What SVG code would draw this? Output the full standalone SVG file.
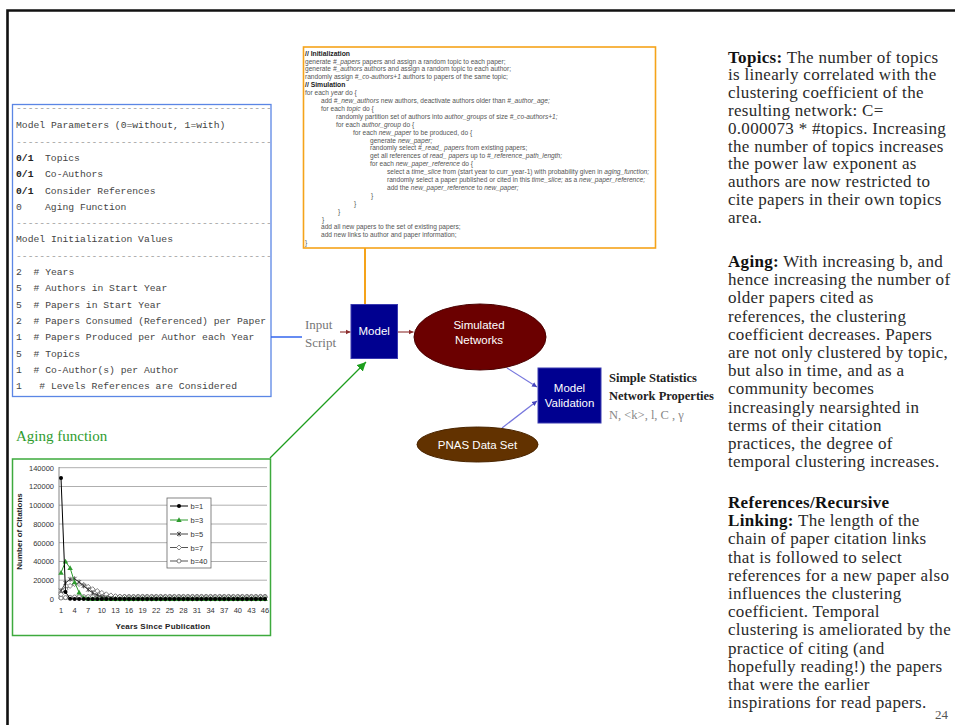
<svg xmlns="http://www.w3.org/2000/svg" width="955" height="725" viewBox="0 0 955 725">
<style>
.code{font-family:"Liberation Sans",Arial,sans-serif;font-size:6.6px;fill:#555}
.cb{font-weight:bold;fill:#222;font-size:6.8px}
.i{font-style:italic}
.mono{font-family:"Liberation Mono","Courier New",monospace;font-size:9.7px;fill:#444}
.dash{fill:#999}
.bold{font-weight:bold;fill:#222}
.ax{font-family:"Liberation Sans",Arial,sans-serif;font-size:7.5px;fill:#333}
.axb{font-family:"Liberation Sans",Arial,sans-serif;font-size:8px;font-weight:bold;fill:#222}
.grid{stroke:#9a9a9a;stroke-width:0.8}
.body{font-family:"Liberation Serif","Times New Roman",serif;font-size:17px;letter-spacing:0.3px;fill:#2a2a2a}
.hb{font-weight:bold;fill:#111}
.wt{font-family:"Liberation Sans",Arial,sans-serif;font-size:11.5px;fill:#fff;text-anchor:middle}
.serif{font-family:"Liberation Serif","Times New Roman",serif}
.navy{fill:#000090;stroke:#3a3ab0;stroke-width:1}
.ser{fill:none;stroke-width:1}
</style>
<defs>
<marker id="ahR" markerWidth="6" markerHeight="6" refX="5" refY="3" orient="auto" markerUnits="userSpaceOnUse"><path d="M0,0.5 L5,3 L0,5.5z" fill="#8B2E2E"/></marker>
<marker id="ahB" markerWidth="6" markerHeight="6" refX="5" refY="3" orient="auto" markerUnits="userSpaceOnUse"><path d="M0,0.5 L5,3 L0,5.5z" fill="#4444BB"/></marker>
<marker id="ahG" markerWidth="10" markerHeight="9" refX="9" refY="4.5" orient="auto" markerUnits="userSpaceOnUse"><path d="M0,0 L9,4.5 L0,9z" fill="#1E9E1E"/></marker>
<marker id="m1" markerWidth="6" markerHeight="6" refX="3" refY="3" markerUnits="userSpaceOnUse"><circle cx="3" cy="3" r="2" fill="#000"/></marker>
<marker id="m3" markerWidth="7" markerHeight="7" refX="3.5" refY="3.5" markerUnits="userSpaceOnUse"><path d="M3.5,0.8 L6.2,5.6 L0.8,5.6z" fill="#2E9B2E"/></marker>
<marker id="m5" markerWidth="7" markerHeight="7" refX="3.5" refY="3.5" markerUnits="userSpaceOnUse"><path d="M1.5,1.5 L5.5,5.5 M5.5,1.5 L1.5,5.5 M3.5,1 L3.5,6" stroke="#333" stroke-width="0.8"/></marker>
<marker id="m7" markerWidth="7" markerHeight="7" refX="3.5" refY="3.5" markerUnits="userSpaceOnUse"><path d="M3.5,1 L6,3.5 L3.5,6 L1,3.5z" fill="#fff" stroke="#555" stroke-width="0.7"/></marker>
<marker id="m40" markerWidth="7" markerHeight="7" refX="3.5" refY="3.5" markerUnits="userSpaceOnUse"><circle cx="3.5" cy="3.5" r="2" fill="#fff" stroke="#555" stroke-width="0.7"/></marker>
</defs>
<rect width="955" height="725" fill="#fff"/>
<!-- frame -->
<path d="M7.5,725 V10.5 H955" fill="none" stroke="#111" stroke-width="2.6"/>

<!-- pseudo-code box -->
<g id="code">
<rect x="303.5" y="47" width="352" height="201" fill="#fff" stroke="#F5A31A" stroke-width="1.6"/>
<text class="code">
<tspan x="305" y="55.6" class="cb">// Initialization</tspan>
<tspan x="305" y="63.5">generate <tspan class="i">#_papers</tspan> papers and assign a random topic to each paper;</tspan>
<tspan x="305" y="71.4">generate <tspan class="i">#_authors</tspan> authors and assign a random topic to each author;</tspan>
<tspan x="305" y="79.3">randomly assign <tspan class="i">#_co-authors+1</tspan> authors to papers of the same topic;</tspan>
<tspan x="305" y="87.2" class="cb">// Simulation</tspan>
<tspan x="305" y="95.1">for each <tspan class="i">year</tspan> do {</tspan>
<tspan x="321" y="103">add <tspan class="i">#_new_authors</tspan> new authors, deactivate authors older than <tspan class="i">#_author_age;</tspan></tspan>
<tspan x="321" y="110.9">for each <tspan class="i">topic</tspan> do {</tspan>
<tspan x="336" y="118.8">randomly partition set of authors into <tspan class="i">author_groups</tspan> of size <tspan class="i">#_co-authors+1;</tspan></tspan>
<tspan x="336" y="126.7">for each <tspan class="i">author_group</tspan> do {</tspan>
<tspan x="353" y="134.6">for each <tspan class="i">new_paper</tspan> to be produced, do {</tspan>
<tspan x="370" y="142.5">generate <tspan class="i">new_paper;</tspan></tspan>
<tspan x="370" y="150.4">randomly select <tspan class="i">#_read_ papers</tspan> from existing papers;</tspan>
<tspan x="370" y="158.3">get all references of <tspan class="i">read_ papers</tspan> up to <tspan class="i">#_reference_path_length;</tspan></tspan>
<tspan x="370" y="166.2">for each <tspan class="i">new_paper_reference</tspan> do {</tspan>
<tspan x="387" y="174.1">select a <tspan class="i">time_slice</tspan> from (start year to curr_year-1) with probability given in <tspan class="i">aging_function;</tspan></tspan>
<tspan x="387" y="182">randomly select a paper published or cited in this <tspan class="i">time_slice;</tspan> as a <tspan class="i">new_paper_reference;</tspan></tspan>
<tspan x="387" y="189.9">add the <tspan class="i">new_paper_reference</tspan> to <tspan class="i">new_paper;</tspan></tspan>
<tspan x="371" y="197.8">}</tspan>
<tspan x="354" y="205.7">}</tspan>
<tspan x="338" y="213.6">}</tspan>
<tspan x="322" y="221.5">}</tspan>
<tspan x="321" y="229.4">add all new papers to the set of existing papers;</tspan>
<tspan x="321" y="237.3">add new links to author and paper information;</tspan>
<tspan x="305" y="245.2">}</tspan>
</text>
</g>

<!-- parameters box -->
<g id="params">
<rect x="12.5" y="104.5" width="258.5" height="292" fill="#fff" stroke="#5B86E5" stroke-width="1.3"/>
<text class="mono">
<tspan x="16" y="111" class="dash">--------------------------------------------</tspan>
<tspan x="16" y="128.3">Model Parameters (0=without, 1=with)</tspan>
<tspan x="16" y="144.6" class="dash">--------------------------------------------</tspan>
<tspan x="16" y="160.9" class="bold">0/1</tspan><tspan x="45" y="160.9">Topics</tspan>
<tspan x="16" y="177.2" class="bold">0/1</tspan><tspan x="45" y="177.2">Co-Authors</tspan>
<tspan x="16" y="193.5" class="bold">0/1</tspan><tspan x="45" y="193.5">Consider References</tspan>
<tspan x="16" y="209.8">0</tspan><tspan x="45" y="209.8">Aging Function</tspan>
<tspan x="16" y="226.1" class="dash">--------------------------------------------</tspan>
<tspan x="16" y="242.4">Model Initialization Values</tspan>
<tspan x="16" y="258.7" class="dash">--------------------------------------------</tspan>
<tspan x="16" y="275">2</tspan><tspan x="33.5" y="275"># Years</tspan>
<tspan x="16" y="291.3">5</tspan><tspan x="33.5" y="291.3"># Authors in Start Year</tspan>
<tspan x="16" y="307.6">5</tspan><tspan x="33.5" y="307.6"># Papers in Start Year</tspan>
<tspan x="16" y="323.9">2</tspan><tspan x="33.5" y="323.9"># Papers Consumed (Referenced) per Paper</tspan>
<tspan x="16" y="340.2">1</tspan><tspan x="33.5" y="340.2"># Papers Produced per Author each Year</tspan>
<tspan x="16" y="356.5">5</tspan><tspan x="33.5" y="356.5"># Topics</tspan>
<tspan x="16" y="372.8">1</tspan><tspan x="33.5" y="372.8"># Co-Author(s) per Author</tspan>
<tspan x="16" y="389.1">1</tspan><tspan x="39.3" y="389.1"># Levels References are Considered</tspan>
</text>
</g>

<!-- aging function chart -->
<g id="aging">
<text x="16" y="441" class="serif" font-size="15" fill="#2E9B2E">Aging function</text>
<rect x="12.5" y="459" width="258" height="176.5" fill="#fff" stroke="#3DAA3D" stroke-width="1.5"/>
<g class="grid">
<line x1="59" y1="467.7" x2="267" y2="467.7"/>
<line x1="59" y1="486.5" x2="267" y2="486.5"/>
<line x1="59" y1="505.2" x2="267" y2="505.2"/>
<line x1="59" y1="524" x2="267" y2="524"/>
<line x1="59" y1="542.7" x2="267" y2="542.7"/>
<line x1="59" y1="561.5" x2="267" y2="561.5"/>
<line x1="59" y1="580.2" x2="267" y2="580.2"/>
</g>
<line x1="59" y1="599" x2="267" y2="599" stroke="#777" stroke-width="0.9"/>
<line x1="59" y1="467" x2="59" y2="599" stroke="#777" stroke-width="0.9"/>
<g class="ax" text-anchor="end">
<text x="54" y="470.5">140000</text>
<text x="54" y="489.3">120000</text>
<text x="54" y="508">100000</text>
<text x="54" y="526.8">80000</text>
<text x="54" y="545.5">60000</text>
<text x="54" y="564.3">40000</text>
<text x="54" y="583">20000</text>
<text x="54" y="601.8">0</text>
</g>
<g class="ax" text-anchor="middle">
<text x="61" y="613">1</text><text x="74.6" y="613">4</text><text x="88.2" y="613">7</text><text x="101.8" y="613">10</text>
<text x="115.4" y="613">13</text><text x="129" y="613">16</text><text x="142.6" y="613">19</text><text x="156.2" y="613">22</text>
<text x="169.8" y="613">25</text><text x="183.4" y="613">28</text><text x="197" y="613">31</text><text x="210.6" y="613">34</text>
<text x="224.2" y="613">37</text><text x="237.8" y="613">40</text><text x="251.4" y="613">43</text><text x="265" y="613">46</text>
</g>
<text x="163" y="629" class="axb" text-anchor="middle" letter-spacing="0.2">Years Since Publication</text>
<text transform="translate(22,531.5) rotate(-90)" class="axb" text-anchor="middle">Number of Citations</text>
<polyline class="ser" stroke="#555" marker-start="url(#m40)" marker-mid="url(#m40)" marker-end="url(#m40)" points="61,598 65.5,597.6 70.1,597.3 74.6,597 79.1,596.8 83.7,596.6 88.2,596.6 92.7,596.6 97.3,596.5 101.8,596.5 106.3,596.5 110.9,596.5 115.4,596.5 119.9,596.5 124.5,596.5 129,596.5 133.5,596.5 138.1,596.4 142.6,596.4 147.1,596.4 151.7,596.4 156.2,596.4 160.7,596.4 165.3,596.4 169.8,596.4 174.3,596.4 178.9,596.4 183.4,596.4 187.9,596.4 192.5,596.4 197,596.4 201.5,596.4 206.1,596.4 210.6,596.4 215.1,596.4 219.7,596.4 224.2,596.4 228.7,596.4 233.3,596.4 237.8,596.4 242.3,596.4 246.9,596.4 251.4,596.4 255.9,596.4 260.5,596.4 265,596.4"/>
<polyline class="ser" stroke="#555" marker-start="url(#m7)" marker-mid="url(#m7)" marker-end="url(#m7)" points="61,594.3 65.5,589.2 70.1,585.9 74.6,584 79.1,584 83.7,584.9 88.2,586.8 92.7,589.2 97.3,591 101.8,592.9 106.3,594.3 110.9,595.4 115.4,596.2 119.9,596.7 124.5,597 129,597.2 133.5,597.2 138.1,597.2 142.6,597.2 147.1,597.2 151.7,597.2 156.2,597.2 160.7,597.2 165.3,597.2 169.8,597.2 174.3,597.2 178.9,597.2 183.4,597.2 187.9,597.2 192.5,597.2 197,597.2 201.5,597.2 206.1,597.2 210.6,597.2 215.1,597.2 219.7,597.2 224.2,597.2 228.7,597.2 233.3,597.2 237.8,597.2 242.3,597.2 246.9,597.2 251.4,597.2 255.9,597.2 260.5,597.2 265,597.2"/>
<polyline class="ser" stroke="#444" marker-start="url(#m5)" marker-mid="url(#m5)" marker-end="url(#m5)" points="61,590.6 65.5,583 70.1,579.3 74.6,578.8 79.1,582.1 83.7,585.9 88.2,589.6 92.7,592.9 97.3,595.2 101.8,596.9 106.3,597.9 110.9,598.4 115.4,598.7 119.9,598.8 124.5,598.8 129,598.8 133.5,598.8 138.1,598.8 142.6,598.8 147.1,598.8 151.7,598.8 156.2,598.8 160.7,598.8 165.3,598.8 169.8,598.8 174.3,598.8 178.9,598.8 183.4,598.8 187.9,598.8 192.5,598.8 197,598.8 201.5,598.8 206.1,598.8 210.6,598.8 215.1,598.8 219.7,598.8 224.2,598.8 228.7,598.8 233.3,598.8 237.8,598.8 242.3,598.8 246.9,598.8 251.4,598.8 255.9,598.8 260.5,598.8 265,598.8"/>
<polyline class="ser" stroke="#2E9B2E" marker-start="url(#m3)" marker-mid="url(#m3)" marker-end="url(#m3)" points="61,572.7 65.5,561.5 70.1,568 74.6,582.1 79.1,592.4 83.7,597.6 88.2,598.6 92.7,599 97.3,599 101.8,599 106.3,599 110.9,599 115.4,599 119.9,599 124.5,599 129,599 133.5,599 138.1,599 142.6,599 147.1,599 151.7,599 156.2,599 160.7,599 165.3,599 169.8,599 174.3,599 178.9,599 183.4,599 187.9,599 192.5,599 197,599 201.5,599 206.1,599 210.6,599 215.1,599 219.7,599 224.2,599 228.7,599 233.3,599 237.8,599 242.3,599 246.9,599 251.4,599 255.9,599 260.5,599 265,599"/>
<polyline class="ser" stroke="#000" marker-start="url(#m1)" marker-mid="url(#m1)" marker-end="url(#m1)" points="61,478 65.5,592 70.1,598.7 74.6,599 79.1,599 83.7,599 88.2,599 92.7,599 97.3,599 101.8,599 106.3,599 110.9,599 115.4,599 119.9,599 124.5,599 129,599 133.5,599 138.1,599 142.6,599 147.1,599 151.7,599 156.2,599 160.7,599 165.3,599 169.8,599 174.3,599 178.9,599 183.4,599 187.9,599 192.5,599 197,599 201.5,599 206.1,599 210.6,599 215.1,599 219.7,599 224.2,599 228.7,599 233.3,599 237.8,599 242.3,599 246.9,599 251.4,599 255.9,599 260.5,599 265,599"/>
<rect x="167" y="498" width="44" height="70" fill="#fff" stroke="#666" stroke-width="0.8"/>
<polyline class="ser" stroke="#000" marker-mid="url(#m1)" points="170,506 179,506 188,506"/>
<polyline class="ser" stroke="#2E9B2E" marker-mid="url(#m3)" points="170,520 179,520 188,520"/>
<polyline class="ser" stroke="#444" marker-mid="url(#m5)" points="170,534 179,534 188,534"/>
<polyline class="ser" stroke="#555" marker-mid="url(#m7)" points="170,547.5 179,547.5 188,547.5"/>
<polyline class="ser" stroke="#555" marker-mid="url(#m40)" points="170,561 179,561 188,561"/>
<g class="ax" font-size="8">
<text x="190.5" y="509">b=1</text>
<text x="190.5" y="523">b=3</text>
<text x="190.5" y="537">b=5</text>
<text x="190.5" y="550.5">b=7</text>
<text x="190.5" y="564">b=40</text>
</g>
</g>

<!-- connectors -->
<g id="connectors" fill="none">
<line x1="365" y1="248" x2="365" y2="304" stroke="#F5A31A" stroke-width="2"/>
<line x1="271" y1="337" x2="302" y2="337" stroke="#3366EE" stroke-width="1.5"/>
<line x1="340" y1="332" x2="350.5" y2="332" stroke="#A05050" stroke-width="1.3" marker-end="url(#ahR)"/>
<line x1="398" y1="332" x2="413.5" y2="332" stroke="#A05050" stroke-width="1.3" marker-end="url(#ahR)"/>
<line x1="507" y1="368" x2="537" y2="387" stroke="#7777DD" stroke-width="1.2" marker-end="url(#ahB)"/>
<line x1="502" y1="428" x2="537" y2="401" stroke="#7777DD" stroke-width="1.2" marker-end="url(#ahB)"/>
<line x1="270" y1="458" x2="366" y2="362" stroke="#1E9E1E" stroke-width="1.3" marker-end="url(#ahG)"/>
</g>

<g id="input">
<text class="serif" font-size="13" fill="#777"><tspan x="305" y="329">Input</tspan><tspan x="305" y="347">Script</tspan></text>
</g>

<g id="model">
<rect x="351" y="304.5" width="46.5" height="54" class="navy"/>
<text x="374.2" y="335" class="wt">Model</text>
</g>

<g id="simulated">
<ellipse cx="480" cy="337" rx="66" ry="33" fill="#6B0000" stroke="#4a0000" stroke-width="1"/>
<text class="wt"><tspan x="479" y="329">Simulated</tspan><tspan x="479" y="343.5">Networks</tspan></text>
</g>

<g id="validation">
<rect x="538" y="368" width="63" height="55" class="navy"/>
<text class="wt"><tspan x="569.5" y="392">Model</tspan><tspan x="569.5" y="406.5">Validation</tspan></text>
</g>

<g id="pnas">
<ellipse cx="477.5" cy="444.5" rx="60.5" ry="17.5" fill="#623200" stroke="#4a2500" stroke-width="1"/>
<text x="477.5" y="448.5" class="wt" font-size="11">PNAS Data Set</text>
</g>

<g id="stats" class="serif">
<text x="609" y="382" font-size="12.5" font-weight="bold" fill="#222">Simple Statistics</text>
<text x="609" y="400" font-size="12.5" font-weight="bold" fill="#222">Network Properties</text>
<text x="609" y="419" font-size="12.5" fill="#888">N, &lt;k&gt;, l, C , γ</text>
</g>

<!-- right column text -->
<g id="notes" class="body">
<text>
<tspan x="728" y="62.5"><tspan class="hb">Topics:</tspan> The number of topics</tspan>
<tspan x="728" y="80.3">is linearly correlated with the</tspan>
<tspan x="728" y="98.1">clustering coefficient of the</tspan>
<tspan x="728" y="115.9">resulting network: C=</tspan>
<tspan x="728" y="133.7">0.000073 * #topics. Increasing</tspan>
<tspan x="728" y="151.5">the number of topics increases</tspan>
<tspan x="728" y="169.3">the power law exponent as</tspan>
<tspan x="728" y="187.1">authors are now restricted to</tspan>
<tspan x="728" y="204.9">cite papers in their own topics</tspan>
<tspan x="728" y="222.7">area.</tspan>
</text>
<text>
<tspan x="728" y="267"><tspan class="hb">Aging:</tspan> With increasing b, and</tspan>
<tspan x="728" y="285.2">hence increasing the number of</tspan>
<tspan x="728" y="303.4">older papers cited as</tspan>
<tspan x="728" y="321.6">references, the clustering</tspan>
<tspan x="728" y="339.8">coefficient decreases. Papers</tspan>
<tspan x="728" y="358">are not only clustered by topic,</tspan>
<tspan x="728" y="376.2">but also in time, and as a</tspan>
<tspan x="728" y="394.4">community becomes</tspan>
<tspan x="728" y="412.6">increasingly nearsighted in</tspan>
<tspan x="728" y="430.8">terms of their citation</tspan>
<tspan x="728" y="449">practices, the degree of</tspan>
<tspan x="728" y="467.2">temporal clustering increases.</tspan>
</text>
<text>
<tspan x="728" y="508" class="hb">References/Recursive</tspan>
<tspan x="728" y="526.2"><tspan class="hb">Linking:</tspan> The length of the</tspan>
<tspan x="728" y="544.4">chain of paper citation links</tspan>
<tspan x="728" y="562.6">that is followed to select</tspan>
<tspan x="728" y="580.8">references for a new paper also</tspan>
<tspan x="728" y="599">influences the clustering</tspan>
<tspan x="728" y="617.2">coefficient. Temporal</tspan>
<tspan x="728" y="635.4">clustering is ameliorated by the</tspan>
<tspan x="728" y="653.6">practice of citing (and</tspan>
<tspan x="728" y="671.8">hopefully reading!) the papers</tspan>
<tspan x="728" y="690">that were the earlier</tspan>
<tspan x="728" y="708.2">inspirations for read papers.</tspan>
</text>
<text x="948" y="719" font-size="13" letter-spacing="0" fill="#555" text-anchor="end">24</text>
</g>
</svg>
